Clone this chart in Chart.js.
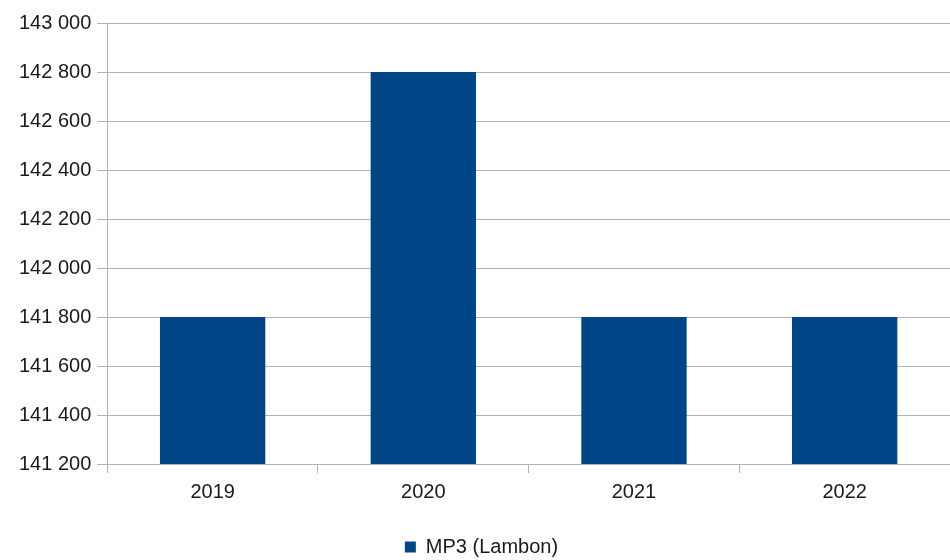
<!DOCTYPE html>
<html>
<head>
<meta charset="utf-8">
<script src="https://cdn.jsdelivr.net/npm/chart.js@4/dist/chart.umd.min.js"></script>
<style>
  html, body { margin: 0; padding: 0; background: #fff; }
  #wrap { width: 950px; height: 560px; }
</style>
</head>
<body>
<div id="wrap"><canvas id="chart"></canvas></div>
<script>
const years = ['2019', '2020', '2021', '2022'];
const mp3Values = [141800, 142800, 141800, 141800];
const yTicks = [141200, 141400, 141600, 141800, 142000, 142200, 142400, 142600, 142800, 143000];

Chart.defaults.font.family = '"Liberation Sans", Arial, sans-serif';
Chart.defaults.font.size = 20;
Chart.defaults.color = '#1a1a1a';

const ctx = document.getElementById('chart').getContext('2d');
new Chart(ctx, {
  type: 'bar',
  data: {
    labels: years,
    datasets: [{
      label: 'MP3 (Lambon)',
      data: mp3Values,
      backgroundColor: '#004586',
      categoryPercentage: 1,
      barPercentage: 0.5
    }]
  },
  options: {
    responsive: true,
    maintainAspectRatio: false,
    animation: false,
    layout: { padding: { left: 13, right: 0, top: 23, bottom: -7 } },
    plugins: {
      tooltip: { enabled: false },
      legend: {
        position: 'bottom',
        labels: { boxWidth: 11, boxHeight: 11, padding: 11, font: { size: 20 } }
      }
    },
    scales: {
      x: {
        grid: { drawOnChartArea: false, offset: true, tickLength: 9, color: '#b3b3b3' },
        border: { color: '#b3b3b3' },
        ticks: { padding: 7 },
        afterFit: function (axis) {
          // extra room between the year labels and the legend
          axis.height += 15;
        }
      },
      y: {
        min: yTicks[0],
        max: yTicks[yTicks.length - 1],
        afterBuildTicks: function (axis) {
          axis.ticks = yTicks.map(v => ({ value: v }));
        },
        grid: { color: '#b3b3b3', tickLength: 10 },
        border: { color: '#b3b3b3' },
        ticks: {
          padding: 6,
          callback: function (v) {
            return String(v).replace(/\B(?=(\d{3})+(?!\d))/g, ' ');
          }
        }
      }
    }
  }
});
</script>
</body>
</html>
